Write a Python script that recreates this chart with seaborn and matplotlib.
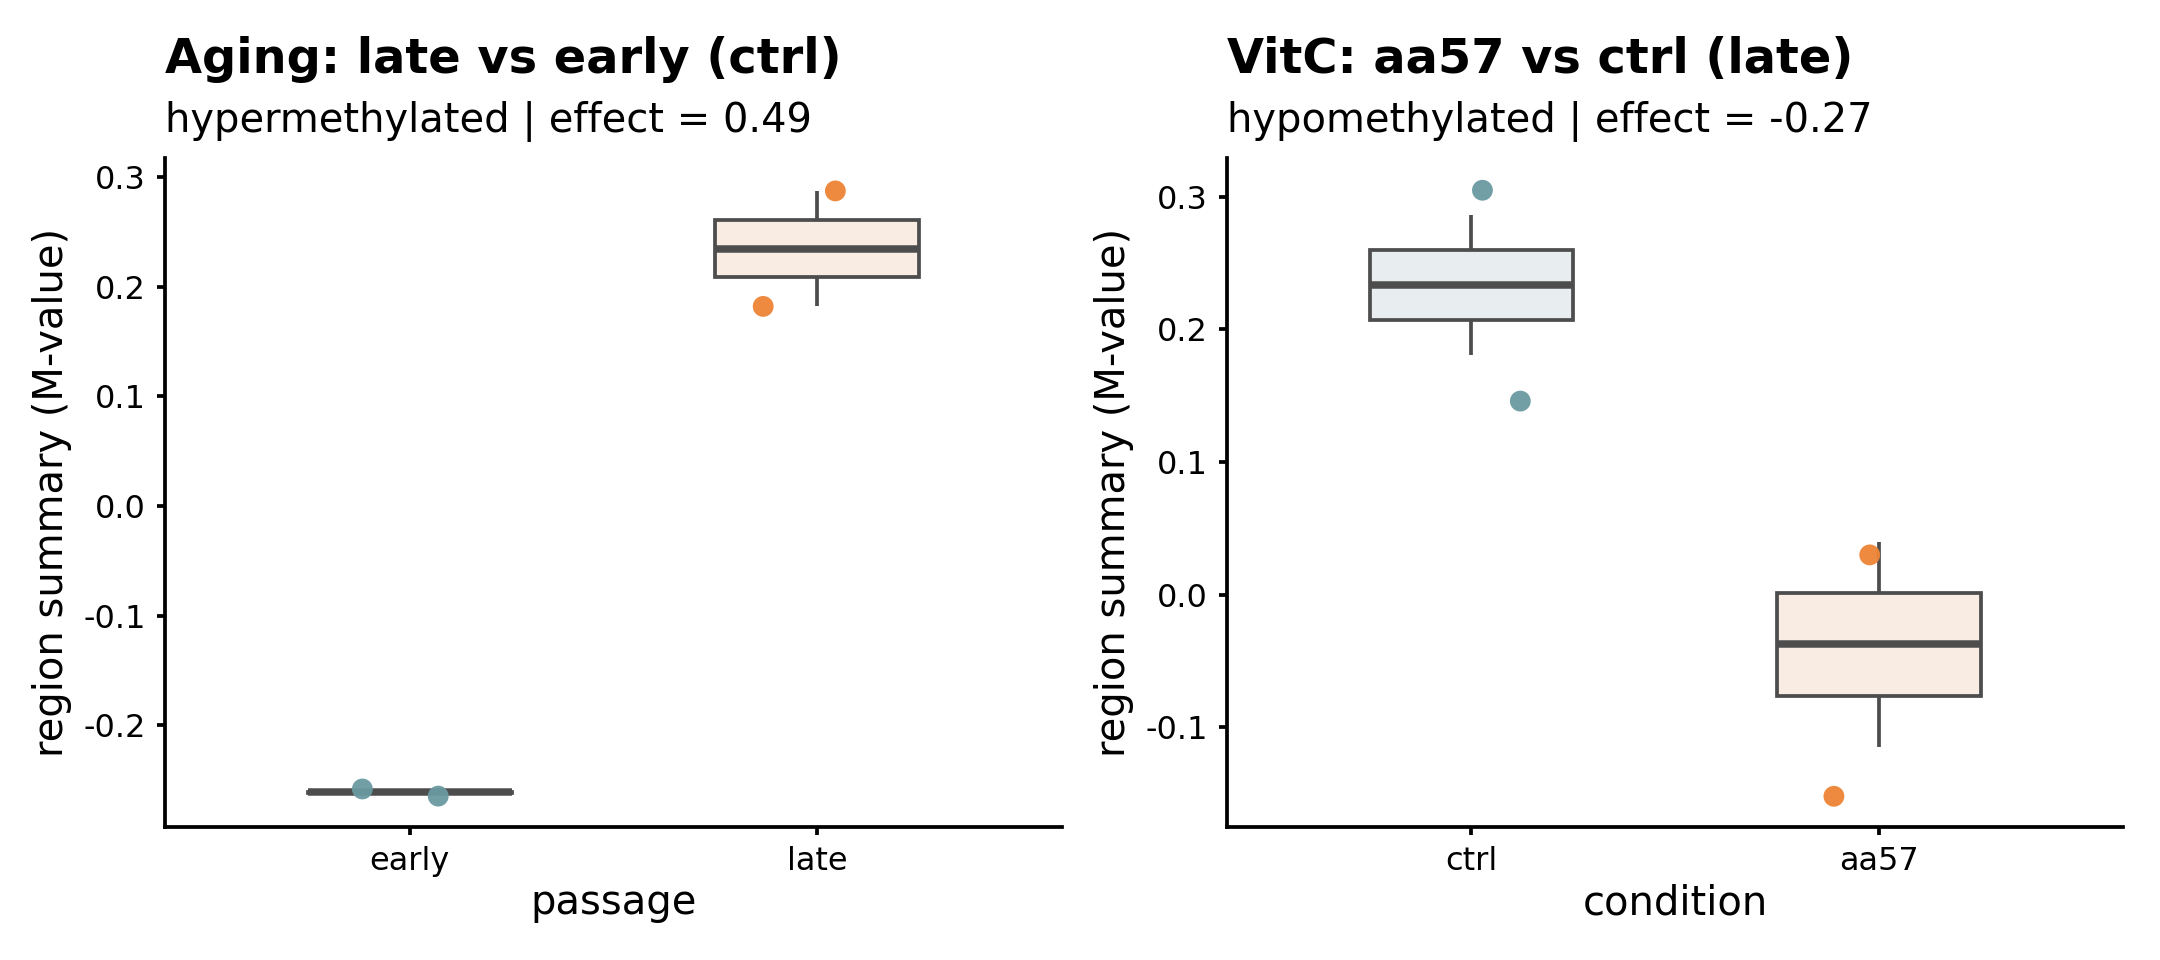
import numpy as np
import pandas as pd
import matplotlib
matplotlib.use("Agg")
import matplotlib.pyplot as plt
import seaborn as sns

# values
# box data (the two samples in each group)
aging_groups = ["early", "late"]
aging_early = [-0.2616, -0.2606]
aging_late = [0.1825, 0.2870]
vitc_groups = ["ctrl", "aa57"]
vitc_ctrl = [0.1810, 0.2865]
vitc_aa57 = [-0.1150, 0.0400]

# jittered points as drawn (ggplot geom_jitter moves them in x and y)
aging_pt_y = [-0.258, -0.2645, 0.182, 0.2873]
aging_pt_dx = [-0.116, 0.07, -0.133, 0.044]
vitc_pt_y = [0.305, 0.146, 0.030, -0.152]
vitc_pt_dx = [0.027, 0.12, -0.022, -0.11]

titles = ["Aging: late vs early (ctrl)", "VitC: aa57 vs ctrl (late)"]
subtitles = ["hypermethylated | effect = 0.49", "hypomethylated | effect = -0.27"]
xlabels = ["passage", "condition"]

teal = "#6A9AA0"
orange = "#EE8435"
fills = ["#E7EFF0", "#FCEBDF"]
edge = "#4D4D4D"

sns.set_theme(style="ticks")
plt.rcParams["font.family"] = ["DejaVu Sans"]
plt.rcParams["text.color"] = "black"
plt.rcParams["axes.labelcolor"] = "black"

fig = plt.figure(figsize=(7.2, 3.2), dpi=300)
ax1 = fig.add_axes([0.0764, 0.1385, 0.4153, 0.6969])
ax2 = fig.add_axes([0.5681, 0.1385, 0.4148, 0.6969])

box_a = pd.DataFrame({"grp": ["early"] * 2 + ["late"] * 2,
                      "val": aging_early + aging_late})
box_v = pd.DataFrame({"grp": ["ctrl"] * 2 + ["aa57"] * 2,
                      "val": vitc_ctrl + vitc_aa57})
pts_a = pd.DataFrame({"grp": ["early"] * 2 + ["late"] * 2,
                      "y": aging_pt_y, "dx": aging_pt_dx})
pts_v = pd.DataFrame({"grp": ["ctrl"] * 2 + ["aa57"] * 2,
                      "y": vitc_pt_y, "dx": vitc_pt_dx})

panels = [(ax1, box_a, pts_a, aging_groups, (-0.2927, 0.3173)),
          (ax2, box_v, pts_v, vitc_groups, (-0.1752, 0.3293))]

for i, (ax, bd, pd_, groups, ylim) in enumerate(panels):
    sns.boxplot(data=bd, x="grp", y="val", order=groups, hue="grp",
                hue_order=groups, palette=fills, legend=False, width=0.5,
                whis=1.5, showfliers=False, linewidth=0.9, linecolor=edge,
                showcaps=False,
                whiskerprops={"linewidth": 0.9, "color": edge},
                medianprops={"linewidth": 1.8, "color": edge},
                ax=ax)
    pd_ = pd_.copy()
    pd_["x"] = pd_["grp"].map({g: k for k, g in enumerate(groups)}) + pd_["dx"]
    sns.scatterplot(data=pd_, x="x", y="y", hue="grp", hue_order=groups,
                    palette=[teal, orange], s=25, alpha=0.95, linewidth=0,
                    legend=False, ax=ax, zorder=5)
    ax.set_xlim(-0.6, 1.6)
    ax.set_ylim(*ylim)
    ax.set_xticks([0, 1])
    ax.set_xticklabels(groups)
    ax.yaxis.set_major_formatter(matplotlib.ticker.FuncFormatter(lambda v, p: f"{v:.1f}"))
    ax.set_xlabel(xlabels[i], fontsize=9.6, labelpad=1.5)
    ax.set_ylabel("region summary (M-value)", fontsize=9.6)
    ax.yaxis.set_label_coords(-0.104, 0.5)
    ax.tick_params(labelsize=7.7, length=2.0, width=0.9, color="black",
                   labelcolor="black", pad=2.6)
    sns.despine(ax=ax)
    for s in ["left", "bottom"]:
        ax.spines[s].set_linewidth(0.9)
        ax.spines[s].set_color("black")
    x0 = ax.get_position().x0
    fig.text(x0, 0.924, titles[i], fontsize=11.5, fontweight="bold",
             va="baseline", color="black")
    fig.text(x0, 0.8625, subtitles[i], fontsize=9.6, va="baseline",
             color="black")

fig.savefig("out.png", dpi=300)
